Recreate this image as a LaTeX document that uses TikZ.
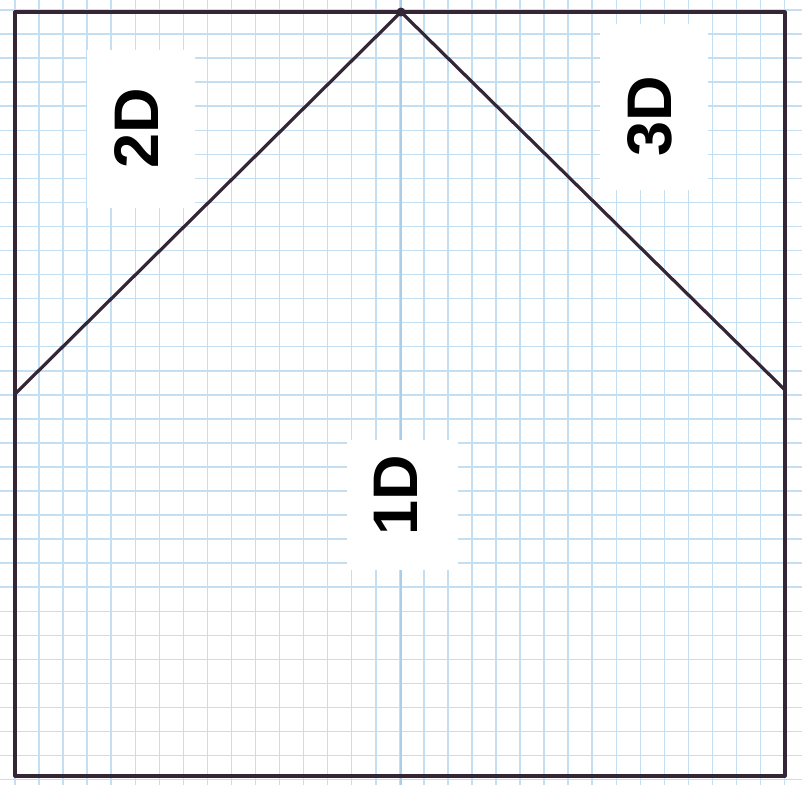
\documentclass[tikz,border=0pt]{standalone}
\usepackage{fontspec}
\setmainfont{Liberation Sans}
\definecolor{gridblue}{RGB}{196,222,242}
\definecolor{gridblue2}{RGB}{170,205,234}
\definecolor{pen}{RGB}{52,38,54}
\tikzset{
  gridline/.style={draw=gridblue, line width=1.5pt},
  penline/.style={draw=pen, line width=3.2pt, line cap=round, line join=round},
  paper/.style={fill=white, draw=none},
  tagtext/.style={rotate=90, font=\bfseries\fontsize{63}{63}\selectfont, text=black, inner sep=0pt}
}
\begin{document}
\begin{tikzpicture}[x=1pt,y=-1pt]
\useasboundingbox (0,0) rectangle (802,785);
\fill[white] (0,0) rectangle (802,785);
% graph paper grid
\foreach \k in {0,...,32} {
  \pgfmathsetmacro\gx{15+24.05*\k}
  \pgfmathsetmacro\gy{10+24.05*\k}
  \draw[gridline] (\gx,0) -- (\gx,785);
  \draw[gridline] (0,\gy) -- (802,\gy);
}
\draw[draw=gridblue2, line width=1.8pt] (401,0) -- (401,785);
% corner and joint points
\coordinate (TL) at (15,12);
\coordinate (TR) at (785,12);
\coordinate (BR) at (785,776);
\coordinate (BL) at (15,776);
\coordinate (P) at (401,12);
\coordinate (L) at (15,394);
\coordinate (R) at (785,390);
% pen lines
\draw[penline] (TL) -- (TR) -- (BR) -- (BL) -- cycle;
\draw[penline] (L) -- (P) -- (R);
\fill[pen] (P) circle (4.5pt);
% paper labels
\fill[paper] (87,50) rectangle (195,208);
\node[tagtext] (l2) at (137,128) {2D};
\fill[paper] (600,24) rectangle (708,190);
\node[tagtext] (l3) at (650,116) {3D};
\fill[paper] (347,440) rectangle (458,570);
\node[tagtext] (l1) at (396,495) {1D};
\end{tikzpicture}
\end{document}
